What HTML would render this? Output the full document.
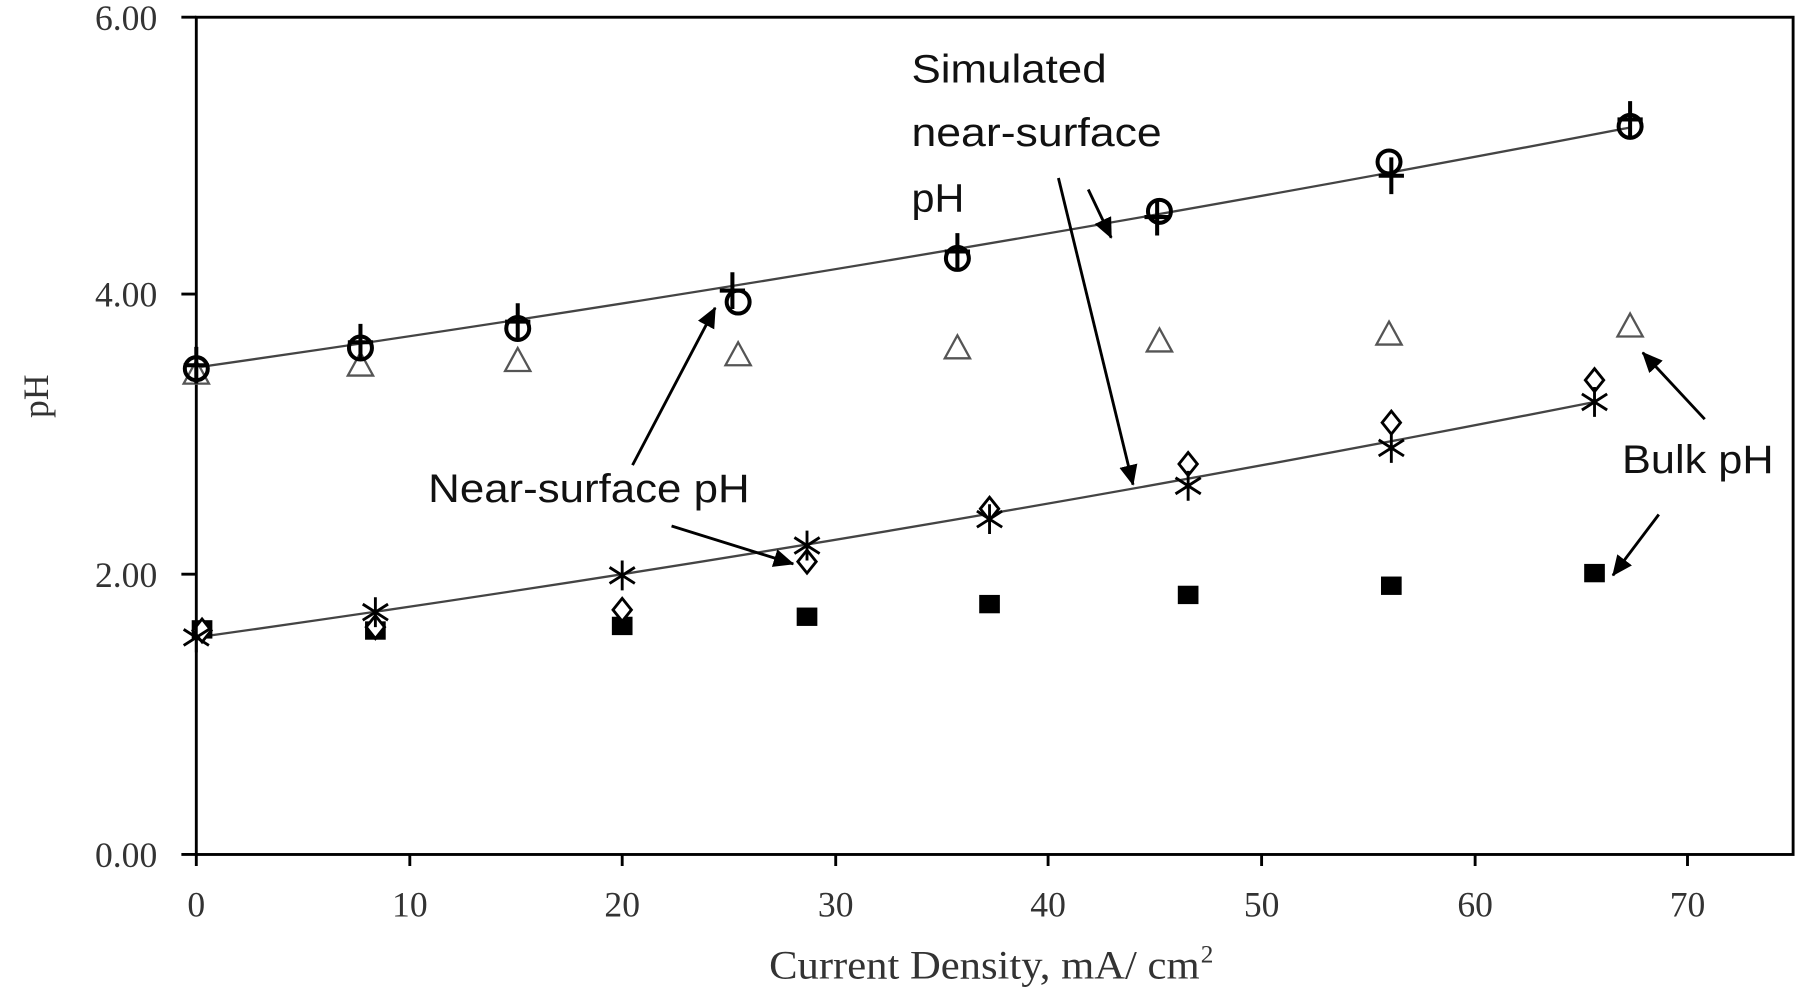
<!DOCTYPE html>
<html><head><meta charset="utf-8"><style>html,body{margin:0;padding:0;background:#fff}svg{display:block}</style></head>
<body>
<svg width="1800" height="990" viewBox="0 0 1568 862" preserveAspectRatio="none" xmlns="http://www.w3.org/2000/svg">
<defs>
<marker id="ah" markerWidth="18" markerHeight="16" refX="17" refY="8" orient="auto" markerUnits="userSpaceOnUse" viewBox="0 0 18 16">
<path d="M0,0 L18,8 L0,16 z" fill="#000"/></marker>
<g id="circ"><circle r="10" fill="none" stroke="#000" stroke-width="3.5"/></g>
<g id="plus"><path d="M0,-16 V16 M-11,0 H11" stroke="#000" stroke-width="3.5"/></g>
<g id="tri"><path d="M0,-11 L11,9 L-11,9 Z" fill="#fff" stroke="#555" stroke-width="2"/></g>
<g id="dia"><path d="M0,-10 L8,0 L0,10 L-8,0 Z" fill="#fff" stroke="#000" stroke-width="2.5"/></g>
<g id="star"><path d="M-11,-7 L11,7 M-11,7 L11,-7 M0,-13 V13" stroke="#000" stroke-width="2.5"/></g>
<g id="sq"><rect x="-9" y="-8" width="18" height="16" fill="#000"/></g>
</defs>
<rect width="1568" height="862" fill="#fff"/>
<rect x="171" y="15" width="1391" height="729" fill="none" stroke="#000" stroke-width="2.5"/>
<g stroke="#000" stroke-width="2.5">
<path d="M158,15H171M158,256H171M158,500H171M158,744H171"/>
<path d="M171,744V754M357,744V754M542,744V754M728,744V754M913,744V754M1099,744V754M1285,744V754M1470,744V754"/>
</g>
<g font-family="Liberation Serif, serif" font-size="31" fill="#333" text-anchor="end">
<text x="137" y="26">6.00</text><text x="137" y="267">4.00</text><text x="137" y="511">2.00</text><text x="137" y="755">0.00</text>
</g>
<g font-family="Liberation Serif, serif" font-size="31" fill="#333" text-anchor="middle">
<text x="171" y="798">0</text><text x="357" y="798">10</text><text x="542" y="798">20</text><text x="728" y="798">30</text><text x="913" y="798">40</text><text x="1099" y="798">50</text><text x="1285" y="798">60</text><text x="1470" y="798">70</text>
<text transform="translate(42,345) rotate(-90)">pH</text>
</g>
<text x="670" y="852" font-family="Liberation Serif, serif" font-size="35" fill="#333" textLength="375" lengthAdjust="spacingAndGlyphs">Current Density, mA/ cm</text>
<text x="1046" y="838" font-family="Liberation Serif, serif" font-size="22" fill="#333">2</text>
<path d="M171,320 Q800,230 1420,111" fill="none" stroke="#444" stroke-width="2"/>
<path d="M171,555 Q780,470 1389,350" fill="none" stroke="#444" stroke-width="2"/>
<g>
<use href="#tri" x="171" y="325"/><use href="#tri" x="314" y="318"/><use href="#tri" x="451" y="314"/><use href="#tri" x="643" y="309"/><use href="#tri" x="834" y="303"/><use href="#tri" x="1010" y="297"/><use href="#tri" x="1210" y="291"/><use href="#tri" x="1420" y="284"/>
<use href="#sq" x="176" y="548"/><use href="#sq" x="327" y="549"/><use href="#sq" x="542" y="545"/><use href="#sq" x="703" y="537"/><use href="#sq" x="862" y="526"/><use href="#sq" x="1035" y="518"/><use href="#sq" x="1212" y="510"/><use href="#sq" x="1389" y="499"/>
<use href="#dia" x="176" y="549"/><use href="#dia" x="327" y="546"/><use href="#dia" x="542" y="531"/><use href="#dia" x="703" y="489"/><use href="#dia" x="862" y="443"/><use href="#dia" x="1035" y="404"/><use href="#dia" x="1212" y="368"/><use href="#dia" x="1389" y="331"/>
<use href="#star" x="171" y="555"/><use href="#star" x="327" y="533"/><use href="#star" x="542" y="501"/><use href="#star" x="703" y="475"/><use href="#star" x="862" y="452"/><use href="#star" x="1035" y="423"/><use href="#star" x="1212" y="390"/><use href="#star" x="1389" y="350"/>
<use href="#circ" x="171" y="321"/><use href="#circ" x="314" y="303"/><use href="#circ" x="451" y="286"/><use href="#circ" x="643" y="263"/><use href="#circ" x="834" y="225"/><use href="#circ" x="1010" y="184"/><use href="#circ" x="1210" y="141"/><use href="#circ" x="1420" y="110"/>
<use href="#plus" x="171" y="318"/><use href="#plus" x="314" y="298"/><use href="#plus" x="451" y="280"/><use href="#plus" x="638" y="253"/><use href="#plus" x="834" y="219"/><use href="#plus" x="1008" y="189"/><use href="#plus" x="1212" y="153"/><use href="#plus" x="1420" y="104"/>
</g>
<g font-family="Liberation Sans, sans-serif" font-size="35" fill="#111" lengthAdjust="spacingAndGlyphs">
<text x="794" y="72" textLength="170" lengthAdjust="spacingAndGlyphs">Simulated</text>
<text x="794" y="127" textLength="218" lengthAdjust="spacingAndGlyphs">near-surface</text>
<text x="794" y="184" textLength="46" lengthAdjust="spacingAndGlyphs">pH</text>
<text x="373" y="437" textLength="280" lengthAdjust="spacingAndGlyphs">Near-surface pH</text>
<text x="1413" y="412" textLength="132" lengthAdjust="spacingAndGlyphs">Bulk pH</text>
</g>
<g stroke="#000" stroke-width="2.5" fill="none">
<line x1="922" y1="155" x2="987" y2="422" marker-end="url(#ah)"/>
<line x1="948" y1="165" x2="968" y2="207" marker-end="url(#ah)"/>
<line x1="551" y1="405" x2="623" y2="268" marker-end="url(#ah)"/>
<line x1="585" y1="458" x2="691" y2="491" marker-end="url(#ah)"/>
<line x1="1485" y1="365" x2="1431" y2="307" marker-end="url(#ah)"/>
<line x1="1445" y1="448" x2="1405" y2="501" marker-end="url(#ah)"/>
</g>
</svg>
</body></html>
